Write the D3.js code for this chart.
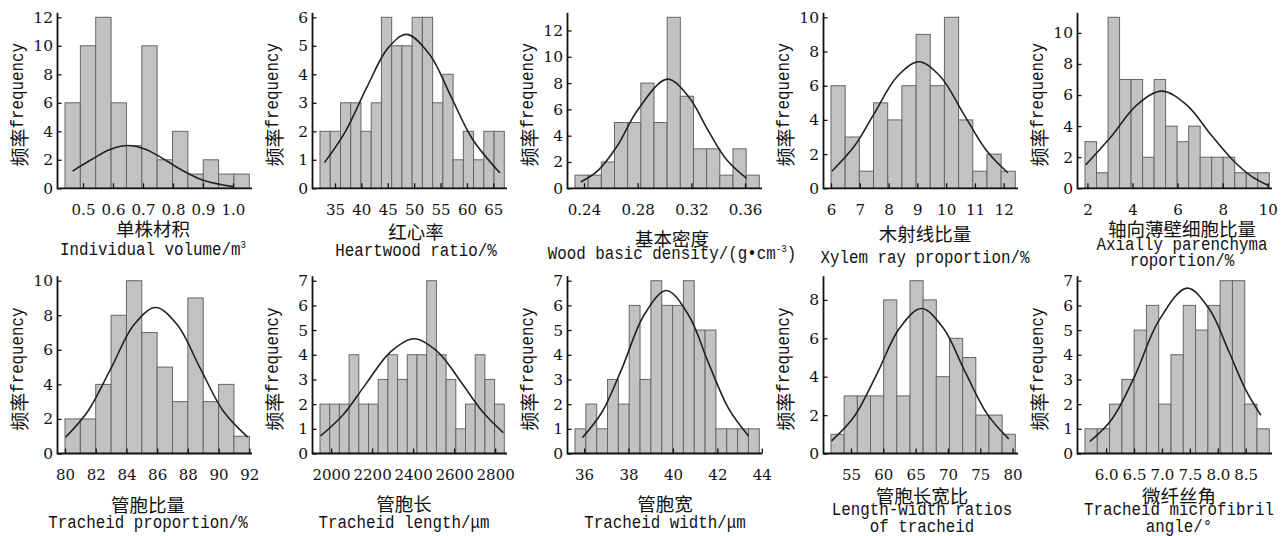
<!DOCTYPE html>
<html>
<head>
<meta charset="utf-8">
<script src="https://cdn.jsdelivr.net/npm/d3@7"></script>
<style>
body { margin: 0; background: #fff; }
svg { display: block; }
</style>
</head>
<body>
<script>
// counts per bin, n = 58 trees each
var volume_counts = [6, 10, 12, 6, 3, 10, 2, 4, 1, 2, 1, 1];
var heartwood_counts = [2, 2, 3, 3, 2, 3, 6, 5, 5, 6, 6, 3, 4, 1, 2, 1, 2, 2];
var density_counts = [1, 1, 2, 5, 5, 8, 5, 13, 7, 3, 3, 1, 3, 1];
var ray_counts = [6, 3, 1, 5, 4, 6, 9, 6, 10, 4, 1, 2, 1];
var parenchyma_counts = [3, 1, 11, 7, 7, 2, 7, 4, 3, 4, 2, 2, 2, 1, 1, 1];
var tracheid_counts = [2, 2, 4, 8, 10, 7, 5, 3, 9, 3, 4, 1];
var length_counts = [2, 2, 2, 4, 2, 2, 3, 4, 3, 4, 4, 7, 4, 3, 1, 2, 4, 3, 2];
var width_counts = [1, 2, 1, 3, 2, 6, 3, 7, 6, 6, 7, 5, 5, 1, 1, 1, 1];
var ratio_counts = [1, 3, 3, 3, 8, 3, 9, 8, 4, 6, 5, 2, 2, 1];
var mfa_counts = [1, 1, 2, 3, 5, 6, 2, 4, 6, 5, 6, 7, 7, 2, 1];

// first bin edge and bin width, same order as above
var bin_start = [0.44, 32.16, 0.2333, 6.0, 1.893, 80, 1946, 35.59, 51.91, 5.622];
var bin_width = [0.0512, 1.94, 0.00981, 0.4925, 0.511, 1, 47.3, 0.488, 2.036, 0.22];

// x tick labels
var volume_ticks = [0.5, 0.6, 0.7, 0.8, 0.9, 1.0];
var heartwood_ticks = [35, 40, 45, 50, 55, 60, 65];
var density_ticks = [0.24, 0.28, 0.32, 0.36];
var ray_ticks = [6, 7, 8, 9, 10, 11, 12];
var parenchyma_ticks = [2, 4, 6, 8, 10];
var tracheid_ticks = [80, 82, 84, 86, 88, 90, 92];
var length_ticks = [2000, 2200, 2400, 2600, 2800];
var width_ticks = [36, 38, 40, 42, 44];
var ratio_ticks = [55, 60, 65, 70, 75, 80];
var mfa_ticks = [6.0, 6.5, 7.0, 7.5, 8.0, 8.5];
var x_formats = [".1f", "d", ".2f", "d", "d", "d", "d", "d", "d", ".1f"];

// y tick labels
var y_ticks = [
  [0, 2, 4, 6, 8, 10, 12],
  [0, 1, 2, 3, 4, 5, 6],
  [0, 2, 4, 6, 8, 10, 12],
  [0, 2, 4, 6, 8, 10],
  [0, 2, 4, 6, 8, 10],
  [0, 2, 4, 6, 8, 10],
  [0, 1, 2, 3, 4, 5, 6, 7],
  [0, 1, 2, 3, 4, 5, 6, 7],
  [0, 2, 4, 6, 8],
  [0, 1, 2, 3, 4, 5, 6, 7]
];

// fitted normal curves [x, frequency]
var volume_curve = [[0.465, 1.21], [0.53, 2.04], [0.59, 2.73], [0.65, 3.0], [0.71, 2.73], [0.77, 2.04], [0.83, 1.27], [0.90, 0.57], [1.0, 0.12]];
var heartwood_curve = [[33, 0.9], [37, 2.0], [41, 3.53], [45, 4.91], [48.6, 5.4], [53, 4.68], [57, 3.21], [61, 1.74], [66.25, 0.54]];
var density_curve = [[0.2375, 0.48], [0.25, 1.3], [0.265, 3.25], [0.28, 5.95], [0.302, 8.3], [0.318, 6.96], [0.332, 4.48], [0.346, 2.2], [0.3612, 0.75]];
var ray_curve = [[6.03, 1.0], [6.8, 2.44], [7.5, 4.37], [8.3, 6.54], [9.05, 7.4], [9.8, 6.54], [10.6, 4.37], [11.4, 2.21], [12.14, 0.91]];
var parenchyma_curve = [[1.93, 1.51], [3.0, 3.23], [4.2, 5.37], [5.3, 6.25], [6.4, 5.37], [7.5, 3.41], [8.5, 1.74], [9.3, 0.75], [10.0, 0.2]];
var tracheid_curve = [[80.05, 0.95], [81.5, 2.46], [83, 4.94], [84.5, 7.46], [85.9, 8.45], [87.3, 7.46], [88.8, 4.94], [90.3, 2.46], [91.9, 0.95]];
var length_curve = [[1949, 0.71], [2060, 1.58], [2170, 2.82], [2290, 4.12], [2405, 4.65], [2520, 4.12], [2630, 2.94], [2740, 1.68], [2840, 0.84]];
var width_curve = [[35.92, 0.64], [36.8, 1.67], [37.7, 3.44], [38.7, 5.61], [39.7, 6.6], [40.7, 5.61], [41.6, 3.66], [42.5, 1.83], [43.4, 0.71]];
var ratio_curve = [[52, 0.66], [55.5, 1.93], [59, 4.14], [62.5, 6.52], [65.9, 7.55], [69.3, 6.52], [72.7, 4.22], [76.1, 2.04], [79.4, 0.76]];
var mfa_curve = [[5.71, 0.49], [6.1, 1.38], [6.5, 3.07], [6.95, 5.4], [7.45, 6.7], [7.85, 5.84], [8.2, 4.12], [8.5, 2.58], [8.77, 1.55]];

var zh_titles = ["单株材积", "红心率", "基本密度", "木射线比量", "轴向薄壁细胞比量",
  "管胞比量", "管胞长", "管胞宽", "管胞长宽比", "微纤丝角"];
// english titles: lines, each a list of [text, superscript?]
var en_titles = [
  [[["Individual volume/m", 0], ["3", 1]]],
  [[["Heartwood ratio/%", 0]]],
  [[["Wood basic density/(g•cm", 0], ["-3", 1], [")", 0]]],
  [[["Xylem ray proportion/%", 0]]],
  [[["Axially parenchyma", 0]], [["roportion/%", 0]]],
  [[["Tracheid proportion/%", 0]]],
  [[["Tracheid length/μm", 0]]],
  [[["Tracheid width/μm", 0]]],
  [[["Length-width ratios", 0]], [["of tracheid", 0]]],
  [[["Tracheid microfibril", 0]], [["angle/°", 0]]]
];

var all_counts = [volume_counts, heartwood_counts, density_counts, ray_counts, parenchyma_counts,
  tracheid_counts, length_counts, width_counts, ratio_counts, mfa_counts];
var all_ticks = [volume_ticks, heartwood_ticks, density_ticks, ray_ticks, parenchyma_ticks,
  tracheid_ticks, length_ticks, width_ticks, ratio_ticks, mfa_ticks];
var all_curves = [volume_curve, heartwood_curve, density_curve, ray_curve, parenchyma_curve,
  tracheid_curve, length_curve, width_curve, ratio_curve, mfa_curve];

// layout
var col_x = [0, 255, 510, 766, 1020];
var row_base = [188.3, 453.5];
var row_top = [17.3, 280.7];
var title_cx = [153, 416, 672, 925, 1182, 148, 404, 665, 922, 1179];
var zh_y = [228, 231, 238, 232.5, 227.5, 504, 503, 503, 494.5, 494.5];
var en_y = [[255], [256], [259], [263], [250, 266], [528], [528], [528], [515, 531.5], [515, 531.5]];

var TICK_FONT = "DejaVu Serif";
var CJK_FONT = "Noto Sans CJK SC";
var MONO_FONT = "Liberation Mono";
var MONO_SIZE = 19;
var MONO_SX = 9.5 / (MONO_SIZE * 0.6);   // half-width latin, like the song-ti glyphs

var svg = d3.select("body").append("svg").attr("width", 1288).attr("height", 536);

all_counts.forEach(function(counts, i) {
  var ox = col_x[i % 5];
  var r = Math.floor(i / 5);
  var base = row_base[r], top = row_top[r];
  var ax = ox + 57.5;
  var s = bin_start[i], w = bin_width[i], n = counts.length;

  var x = d3.scaleLinear().domain([s, s + n * w]).range([ox + 65, ox + 249.3]);
  var y = d3.scaleLinear().domain([0, d3.max(counts)]).range([base, top]);
  var g = svg.append("g");

  g.selectAll("rect").data(counts).enter().append("rect")
    .attr("x", function(d, j) { return x(s + j * w); })
    .attr("width", function(d, j) { return x(s + (j + 1) * w) - x(s + j * w); })
    .attr("y", function(d) { return y(d); })
    .attr("height", function(d) { return base - y(d); })
    .attr("fill", "#c2c2c2")
    .attr("stroke", "#666")
    .attr("stroke-width", 1);

  var line = d3.line()
    .x(function(d) { return x(d[0]); })
    .y(function(d) { return y(d[1]); })
    .curve(d3.curveCatmullRom);
  g.append("path").datum(all_curves[i])
    .attr("d", line)
    .attr("fill", "none")
    .attr("stroke", "#222")
    .attr("stroke-width", 1.6);

  // x axis
  var xa = d3.axisBottom(x).tickValues(all_ticks[i])
    .tickSizeInner(-5).tickSizeOuter(0).tickPadding(16)
    .tickFormat(d3.format(x_formats[i]));
  var xg = g.append("g").attr("transform", "translate(0," + base + ")").call(xa);
  xg.select(".domain").remove();
  xg.selectAll(".tick line").attr("stroke", "#111").attr("stroke-width", 1.3);
  xg.selectAll("text").attr("font-family", TICK_FONT).attr("font-size", 15).attr("fill", "#111");

  // y axis
  var ya = d3.axisLeft(y).tickValues(y_ticks[i])
    .tickSizeInner(-4).tickSizeOuter(0).tickPadding(4.5)
    .tickFormat(d3.format("d"));
  var yg = g.append("g").attr("transform", "translate(" + ax + ",0)").call(ya);
  yg.select(".domain").remove();
  yg.selectAll(".tick line").attr("stroke", "#111").attr("stroke-width", 1.3);
  yg.selectAll("text").attr("font-family", TICK_FONT).attr("font-size", 15.5).attr("fill", "#111");

  g.append("line").attr("x1", ax).attr("x2", ox + 252).attr("y1", base).attr("y2", base)
    .attr("stroke", "#111").attr("stroke-width", 1.8);
  g.append("line").attr("x1", ax).attr("x2", ax).attr("y1", base + 0.9).attr("y2", top - 4.5)
    .attr("stroke", "#111").attr("stroke-width", 1.8);

  // y label: 频率 + frequency, reading bottom to top
  var half = (2 * 19 + 9 * 9.5) / 2;
  var yl = g.append("g")
    .attr("transform", "translate(" + (ox + 18) + "," + ((base + top) / 2 + 2) + ") rotate(-90)");
  yl.append("text").attr("x", -half).attr("dominant-baseline", "central")
    .attr("font-family", CJK_FONT).attr("font-size", 19).attr("fill", "#111")
    .text("频率");
  yl.append("text")
    .attr("transform", "translate(" + (-half + 38) + ",0) scale(" + MONO_SX + ",1)")
    .attr("dominant-baseline", "central")
    .attr("font-family", MONO_FONT).attr("font-size", MONO_SIZE).attr("fill", "#111")
    .text("frequency");

  // titles
  g.append("text")
    .attr("x", title_cx[i]).attr("y", zh_y[i])
    .attr("text-anchor", "middle").attr("dominant-baseline", "central")
    .attr("font-family", CJK_FONT).attr("font-size", 18.5).attr("fill", "#111")
    .text(zh_titles[i]);

  en_titles[i].forEach(function(parts, k) {
    var t = g.append("text")
      .attr("transform", "translate(" + title_cx[i] + "," + en_y[i][k] + ") scale(" + MONO_SX + ",1)")
      .attr("text-anchor", "middle")
      .attr("font-family", MONO_FONT).attr("font-size", MONO_SIZE).attr("fill", "#111");
    parts.forEach(function(p) {
      var sp = t.append("tspan").text(p[0]);
      if (p[1]) sp.attr("font-size", 11).attr("dy", -7);
      else if (t.selectAll("tspan").size() > 1) sp.attr("dy", 7);
    });
  });
});
</script>
</body>
</html>
